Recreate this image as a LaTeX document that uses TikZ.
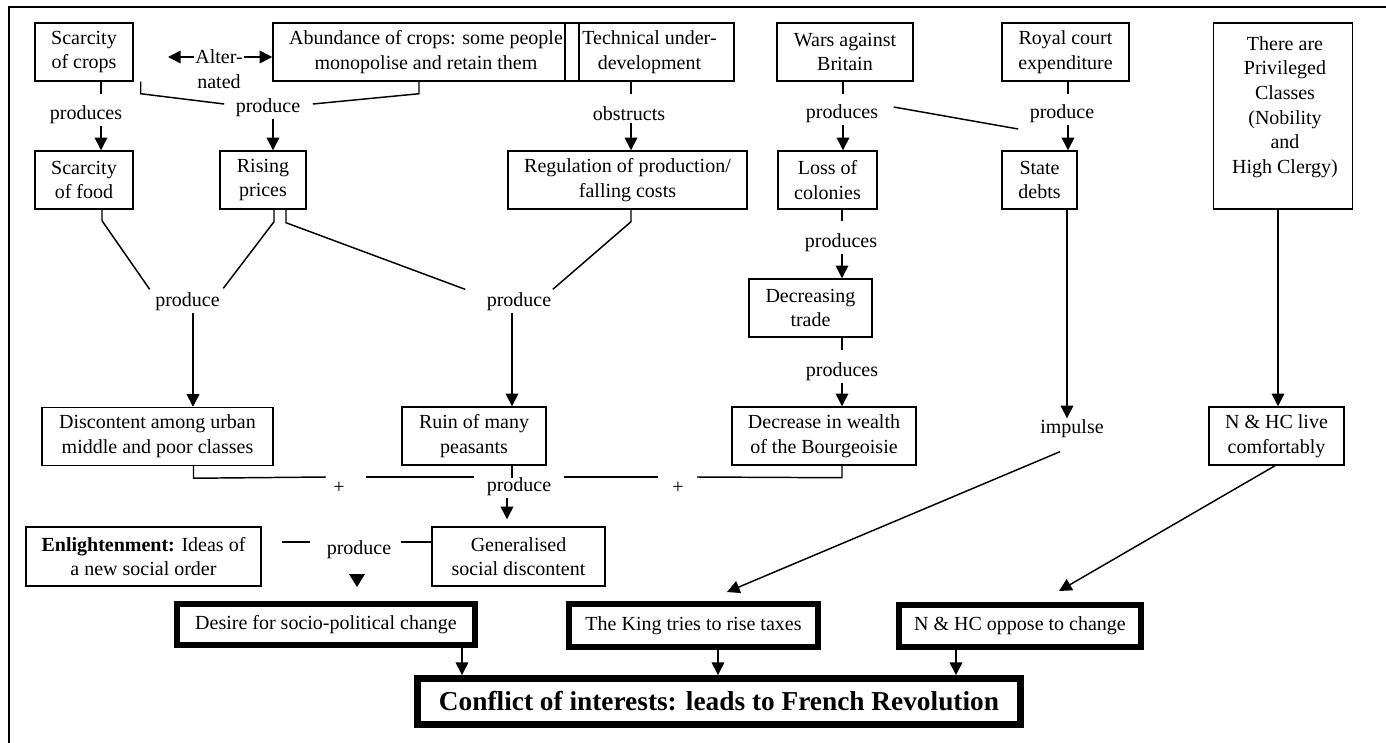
\documentclass[tikz,border=0pt]{standalone}
\usepackage{fontspec}
\setmainfont{Liberation Serif}
\usetikzlibrary{arrows.meta,calc}
\begin{document}
\begin{tikzpicture}[x=0.75pt,y=-0.75pt,
  every node/.style={font=\fontsize{15}{18.5}\selectfont},
  box/.style 2 args={draw,line width=1.1pt,align=center,inner sep=0pt,
    minimum width=#1*0.75pt,minimum height=#2*0.75pt},
  thickbox/.style 2 args={box={#1}{#2},line width=4.5pt},
  lab/.style={inner sep=1pt,align=center},
  ln/.style={line width=1.1pt},
  arr/.style={line width=1.1pt,-{Triangle[length=9.5pt,width=9.5pt]}}]
\useasboundingbox (0,0) rectangle (1386,743);
% frame (top and left only)
\draw[line width=1.4pt] (1386,7) -- (9,7) -- (9,743);

% boxes
\node[box={98}{58}] (crops) at (84,52) {Scarcity\\of crops};
\node[box={306}{58}] (abund) at (426,52) {Abundance of crops: some people\\monopolise and retain them};
\node[box={169}{58}] (tech) at (649.5,52) {Technical under-\\development};
\node[box={136}{58}] (wars) at (845,52) {Wars against\\Britain};
\node[box={127}{58}] (royal) at (1065.5,52) {Royal court\\expenditure};
\node[box={139}{186}] (priv) at (1283,116) {};
\node[lab] (privtxt) at (1285,107) {There are\\Privileged\\Classes\\(Nobility\\and\\High Clergy)};
\node[box={98}{58}] (food) at (84,180) {Scarcity\\of food};
\node[box={86}{58}] (rising) at (263,180) {Rising\\prices};
\node[box={239}{58}] (regul) at (627.5,180) {Regulation of production/\\falling costs};
\node[box={99}{58}] (loss) at (827.5,180) {Loss of\\colonies};
\node[box={75}{58}] (debts) at (1039.5,180) {State\\debts};
\node[box={123}{58}] (trade) at (810.5,308) {Decreasing\\trade};
\node[box={231}{58}] (discont) at (157.5,436.5) {Discontent among urban\\middle and poor classes};
\node[box={144}{58}] (ruin) at (474,436) {Ruin of many\\peasants};
\node[box={184}{58}] (wealth) at (824,436) {Decrease in wealth\\of the Bourgeoisie};
\node[box={135}{58}] (nhclive) at (1276.5,436) {N \& HC live\\comfortably};
\node[box={235}{59}] (enlight) at (143.5,556.5) {\textbf{Enlightenment:} Ideas of\\a new social order};
\node[box={173}{59}] (general) at (518.5,556.5) {Generalised\\social discontent};
\node[thickbox={298}{41}] (desire) at (326,624.5) {Desire for socio-political change};
\node[thickbox={249}{43}] (king) at (693.5,625.5) {The King tries to rise taxes};
\node[thickbox={242}{42}] (oppose) at (1020,626) {N \& HC oppose to change};
\node[thickbox={603}{46},line width=5.2pt,font=\fontsize{20.5}{24}\selectfont\bfseries] (conflict) at (719,701.5) {Conflict of interests: leads to French Revolution};

% labels
\node[lab] (alter) at (219,69) {Alter-\\nated};
\node[lab] (pr1) at (86,115) {produces};
\node[lab] (p1) at (268,108) {produce};
\node[lab] (obs) at (629,114) {obstructs};
\node[lab] (pr2) at (842,114) {produces};
\node[lab] (p2) at (1062,114) {produce};
\node[lab] (pL) at (187.5,302) {produce};
\node[lab] (pR) at (519,302) {produce};
\node[lab] (pr3) at (841,243) {produces};
\node[lab] (pr4) at (842,372) {produces};
\node[lab] (imp) at (1072,429) {impulse};
\node[lab] (plus1) at (339,488) {+};
\node[lab] (p3) at (519,487) {produce};
\node[lab] (plus2) at (678,488) {+};
\node[lab] (p4) at (359,550) {produce};

% coordinates for free ends
\coordinate (altL) at (168,57);
\coordinate (tri) at (357,574);

% Alter-nated arrows
\draw[arr] ($(alter.west)+(0,-12)$) -- (altL);
\draw[arr] ($(alter.east)+(0,-12)$) -- (abund.west |- altL);

% crops -> food
\draw[ln] ($(crops.south)+(17,0)$) -- ++(0,12);
\draw[arr] ($(pr1.south)+(15,0)$) -- ($(food.north)+(17,0)$);
% crops/abundance -> rising
\draw[ln] ($(crops.south east)+(7,0)$) -- ++(0,12) -- ($(p1.west)+(-10,-4)$);
\draw[ln] ($(abund.south)+(-7,0)$) -- ++(0,12) -- ($(p1.east)+(11,-4)$);
\draw[arr] ($(p1.south)+(5,0)$) -- ($(rising.north)+(10,0)$);
% tech -> regul
\draw[ln] ($(tech.south)+(-18.5,0)$) -- ++(0,12);
\draw[arr] ($(obs.south)+(2,0)$) -- ($(regul.north)+(3.5,0)$);
% wars -> loss
\draw[ln] ($(wars.south)+(-2,0)$) -- ++(0,12);
\draw[arr] ($(pr2.south)+(1,0)$) -- ($(loss.north)+(15.5,0)$);
\draw[ln] ($(pr2.east)+(14,-7)$) -- ($(p2.west)+(-10,15)$);
% royal -> debts
\draw[ln] ($(royal.south)+(2.5,0)$) -- ++(0,12);
\draw[arr] ($(p2.south)+(6,0)$) -- ($(debts.north)+(28.5,0)$);
% priv -> nhclive
\draw[arr] ($(priv.south)+(-5,0)$) -- ($(nhclive.north)+(1.5,0)$);
% food, rising, regul -> produce
\draw[ln] ($(food.south)+(18,0)$) -- ++(0,11) -- ($(pL.north west)+(-4,-2)$);
\draw[ln] ($(rising.south)+(11,0)$) -- ++(0,12) -- ($(pL.north east)+(2,-3)$);
\draw[ln] ($(rising.south)+(23,0)$) -- ++(0,13) -- ($(pR.north west)+(-20,-2)$);
\draw[ln] ($(regul.south)+(3.5,0)$) -- ++(0,12) -- ($(pR.north east)+(0,-2)$);
\draw[arr] ($(pL.south)+(5.5,0)$) -- ($(discont.north)+(35.5,0)$);
\draw[arr] ($(pR.south)+(-7,0)$) -- ($(ruin.north)+(38,0)$);
% loss -> trade -> wealth
\draw[ln] ($(loss.south)+(14.5,0)$) -- ++(0,11);
\draw[arr] ($(pr3.south)+(1,0)$) -- ($(trade.north)+(31.5,0)$);
\draw[ln] ($(trade.south)+(31.5,0)$) -- ++(0,12);
\draw[arr] ($(pr4.south)+(0,0)$) -- ($(wealth.north)+(18,0)$);
% debts -> impulse
\draw[arr] ($(debts.south)+(27.5,0)$) -- ($(imp.north)+(-5,0)$);
% impulse -> king, nhclive -> oppose
\draw[arr] ($(imp.south)+(-12,12)$) -- ($(king.north)+(33.5,-9)$);
\draw[arr] ($(nhclive.south)+(-1.5,0)$) -- ($(oppose.north)+(39,-11)$);
% bottom chain of + produce +
\draw[ln] ($(discont.south)+(36,0)$) -- ++(0,12) -- ($(plus1.west)+(-6,-11)$);
\draw[ln] ($(plus1.east)+(20,-11)$) -- ($(p3.west)+(-11,-10)$);
\draw[ln] ($(ruin.south)+(38,0)$) -- ++(0,12);
\draw[arr] ($(p3.south)+(-12,0)$) -- ($(general.north)+(-11.5,-7)$);
\draw[ln] ($(p3.east)+(11,-10)$) -- ($(plus2.west)+(-13,-11)$);
\draw[ln] ($(plus2.east)+(12,-11)$) -- ($(wealth.south)+(18,12)$) -- ($(wealth.south)+(18,0)$);
% enlightenment / generalised -> produce -> desire
\draw[ln] ($(enlight.east)+(20,-14.5)$) -- ++(28,0);
\draw[ln] ($(general.west)+(-30,-14.5)$) -- (general.west |- {$(general.west)+(0,-14.5)$});
\fill (tri) ++(-8,0) -- ++(16,0) -- ++(-8,13) -- cycle;
% to conflict
\draw[arr] ($(desire.south)+(136,0)$) -- (conflict.north -| {$(desire.south)+(136,0)$});
\draw[arr] ($(king.south)+(24.5,0)$) -- (conflict.north -| {$(king.south)+(24.5,0)$});
\draw[arr] ($(oppose.south)+(-64,0)$) -- (conflict.north -| {$(oppose.south)+(-64,0)$});
\end{tikzpicture}
\end{document}
